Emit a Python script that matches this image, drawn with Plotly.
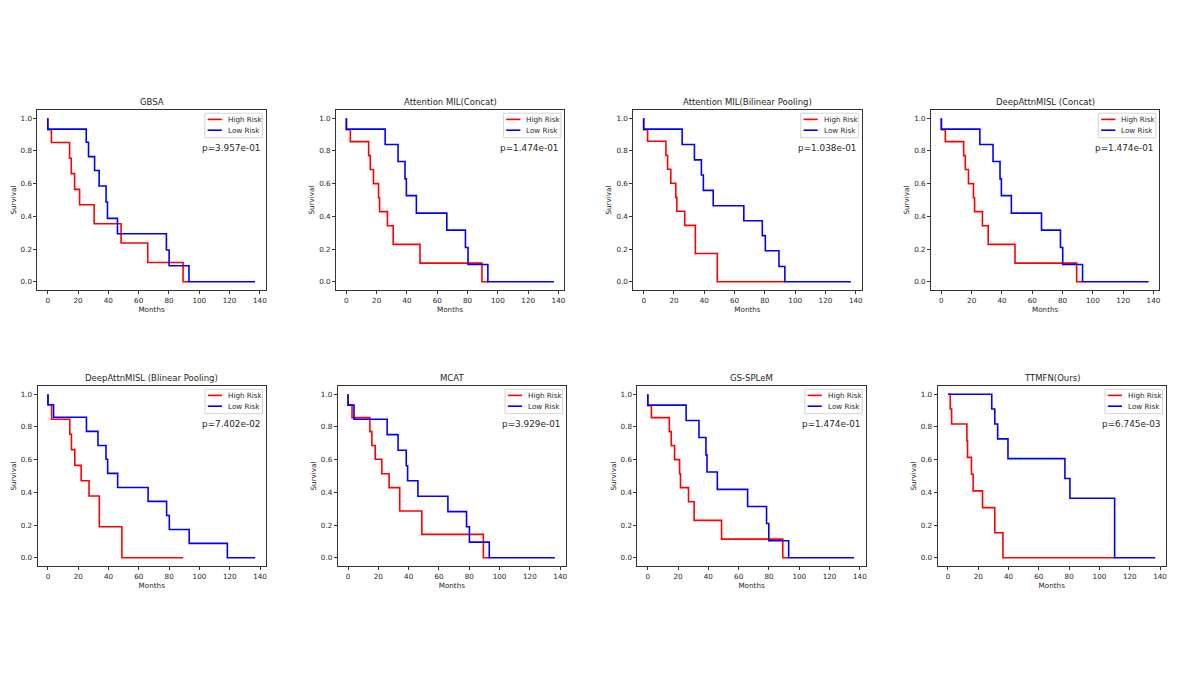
import plotly.graph_objects as go

W, H = 1196, 673

titles = ["GBSA", "Attention MIL(Concat)", "Attention MIL(Bilinear Pooling)", "DeepAttnMISL (Concat)",
          "DeepAttnMISL (Blinear Pooling)", "MCAT", "GS-SPLeM", "TTMFN(Ours)"]
p_values = ["p=3.957e-01", "p=1.474e-01", "p=1.038e-01", "p=1.474e-01",
            "p=7.402e-02", "p=3.929e-01", "p=1.474e-01", "p=6.745e-03"]
series_names = ["High Risk", "Low Risk"]
x_ticks = [0, 20, 40, 60, 80, 100, 120, 140]
y_ticks = [0.0, 0.2, 0.4, 0.6, 0.8, 1.0]

# GBSA
gbsa_high_t = [0, 0, 2.4, 14.4, 15.5, 17.7, 21.0, 30.6, 48.4, 66.0, 89.3, 93.2]
gbsa_high_s = [1.0, 0.929, 0.851, 0.755, 0.661, 0.565, 0.471, 0.355, 0.237, 0.118, 0.0, 0.0]
gbsa_low_t = [0, 0, 25.4, 26.9, 30.9, 33.9, 38.5, 39.4, 46.0, 78.3, 80.1, 93.2, 136.8]
gbsa_low_s = [1.0, 0.933, 0.853, 0.765, 0.68, 0.586, 0.488, 0.388, 0.294, 0.194, 0.098, 0.0, 0.0]

# Attention MIL (Concat)
amil_cat_high_t = [0, 0, 2.6, 14.7, 15.8, 17.9, 21.2, 21.9, 27.1, 30.9, 48.6, 89.5, 93.4]
amil_cat_high_s = [1.0, 0.929, 0.857, 0.771, 0.686, 0.6, 0.514, 0.429, 0.343, 0.229, 0.114, 0.0, 0.0]
amil_cat_low_t = [0, 0, 25.6, 34.1, 38.7, 39.6, 46.2, 66.3, 78.6, 80.3, 93.4, 137.0]
amil_cat_low_s = [1.0, 0.933, 0.839, 0.735, 0.629, 0.527, 0.42, 0.316, 0.21, 0.106, 0.0, 0.0]

# Attention MIL (Bilinear Pooling)
amil_bp_high_t = [0, 0, 2.6, 14.7, 15.8, 17.9, 21.2, 21.9, 27.1, 34.1, 48.6, 93.2]
amil_bp_high_s = [1.0, 0.929, 0.859, 0.773, 0.688, 0.602, 0.516, 0.431, 0.345, 0.173, 0.0, 0.0]
amil_bp_low_t = [0, 0, 25.4, 33.5, 38.1, 39.4, 45.9, 66.1, 78.3, 80.3, 89.3, 93.2, 136.8]
amil_bp_low_s = [1.0, 0.933, 0.839, 0.745, 0.653, 0.559, 0.465, 0.373, 0.282, 0.19, 0.094, 0.0, 0.0]

# DeepAttnMISL (Concat)
dam_cat_high_t = [0, 0, 2.6, 14.7, 15.8, 17.9, 21.2, 21.9, 27.1, 30.9, 48.6, 89.3, 93.2]
dam_cat_high_s = [1.0, 0.929, 0.857, 0.771, 0.686, 0.6, 0.514, 0.429, 0.343, 0.229, 0.114, 0.0, 0.0]
dam_cat_low_t = [0, 0, 25.4, 34.1, 38.7, 39.6, 46.2, 66.1, 78.6, 80.1, 93.2, 136.8]
dam_cat_low_s = [1.0, 0.933, 0.839, 0.735, 0.629, 0.527, 0.42, 0.316, 0.21, 0.106, 0.0, 0.0]

# DeepAttnMISL (Blinear Pooling)
dam_bp_high_t = [0, 0, 2.4, 14.4, 15.5, 17.7, 21.9, 27.1, 33.9, 48.8, 89.3]
dam_bp_high_s = [1.0, 0.935, 0.847, 0.755, 0.661, 0.565, 0.471, 0.378, 0.19, 0.0, 0.0]
dam_bp_low_t = [0, 0, 3.7, 25.4, 33.0, 38.3, 39.4, 46.0, 66.1, 78.3, 80.1, 93.2, 118.4, 136.8]
dam_bp_low_s = [1.0, 0.935, 0.859, 0.773, 0.686, 0.602, 0.516, 0.43, 0.345, 0.259, 0.173, 0.088, 0.0, 0.0]

# MCAT
mcat_high_t = [0, 0, 2.6, 14.4, 15.7, 17.9, 22.3, 27.1, 34.1, 48.7, 89.3, 93.2]
mcat_high_s = [1.0, 0.933, 0.857, 0.771, 0.686, 0.602, 0.514, 0.429, 0.286, 0.143, 0.0, 0.0]
mcat_low_t = [0, 0, 3.9, 25.8, 33.0, 38.4, 39.3, 46.1, 65.9, 78.2, 80.1, 93.2, 136.5]
mcat_low_s = [1.0, 0.933, 0.847, 0.753, 0.657, 0.563, 0.471, 0.376, 0.282, 0.19, 0.096, 0.0, 0.0]

# GS-SPLeM
gs_high_t = [0, 0, 2.4, 14.2, 15.5, 17.7, 21.0, 21.6, 26.9, 30.6, 48.7, 89.1, 93.0]
gs_high_s = [1.0, 0.929, 0.857, 0.771, 0.686, 0.6, 0.514, 0.429, 0.343, 0.229, 0.114, 0.0, 0.0]
gs_low_t = [0, 0, 25.3, 33.8, 38.4, 39.1, 45.9, 65.9, 78.4, 79.9, 93.0, 136.2]
gs_low_s = [1.0, 0.933, 0.839, 0.735, 0.629, 0.524, 0.418, 0.314, 0.21, 0.104, 0.0, 0.0]

# TTMFN (Ours)
ttmfn_high_t = [0, 1.5, 2.4, 12.5, 12.9, 15.5, 16.6, 22.8, 30.9, 36.3, 110.0]
ttmfn_high_s = [1.0, 0.909, 0.818, 0.716, 0.614, 0.511, 0.409, 0.307, 0.153, 0.0, 0.0]
ttmfn_low_t = [0, 28.9, 30.9, 32.8, 39.6, 77.2, 80.5, 110.0, 136.8]
ttmfn_low_s = [1.0, 0.909, 0.818, 0.727, 0.606, 0.485, 0.364, 0.0, 0.0]

panel_data = [
    (gbsa_high_t, gbsa_high_s, gbsa_low_t, gbsa_low_s),
    (amil_cat_high_t, amil_cat_high_s, amil_cat_low_t, amil_cat_low_s),
    (amil_bp_high_t, amil_bp_high_s, amil_bp_low_t, amil_bp_low_s),
    (dam_cat_high_t, dam_cat_high_s, dam_cat_low_t, dam_cat_low_s),
    (dam_bp_high_t, dam_bp_high_s, dam_bp_low_t, dam_bp_low_s),
    (mcat_high_t, mcat_high_s, mcat_low_t, mcat_low_s),
    (gs_high_t, gs_high_s, gs_low_t, gs_low_s),
    (ttmfn_high_t, ttmfn_high_s, ttmfn_low_t, ttmfn_low_s),
]

# ---- layout geometry (pixels) ----
row_px = [(110, 290), (386, 566)]
col_px = [[(37.4, 265.7), (336.0, 564.3), (633.3, 861.6), (931.0, 1159.3)],
          [(37.6, 265.9), (337.7, 566.0), (637.4, 865.7), (937.6, 1165.9)]]
COLORS = ["#ff0000", "#0000ff"]
FONT = "DejaVu Sans"
TXT = "#262626"
AX = "#333333"
LW = 1.6


def px(x):
    return x / W


def py(y):
    return 1 - y / H


fig = go.Figure()
annotations = []
shapes = []
layout_axes = {}

for i, (ht, hs, lt, ls) in enumerate(panel_data):
    r, c = divmod(i, 4)
    left, right = col_px[r][c]
    top, bottom = row_px[r]
    n = "" if i == 0 else str(i + 1)
    xref, yref = "x" + n, "y" + n

    for (t, s), name, col in zip([(ht, hs), (lt, ls)], series_names, COLORS):
        fig.add_trace(go.Scatter(x=t, y=s, mode="lines", line=dict(color=col, width=LW, shape="hv"),
                                 name=name, showlegend=False, xaxis=xref, yaxis=yref,
                                 hoverinfo="skip"))

    layout_axes["xaxis" + n] = dict(
        domain=[px(left), px(right)], anchor=yref, range=[-6.85, 143.85],
        tickvals=x_ticks, ticks="outside", ticklen=3, tickwidth=0.9, tickcolor=AX,
        showline=True, mirror=True, linecolor=AX, linewidth=0.9,
        showgrid=False, zeroline=False,
        tickfont=dict(family=FONT, size=7.2, color=TXT),
        title=dict(text="Months", font=dict(family=FONT, size=7.2, color=TXT), standoff=2),
    )
    layout_axes["yaxis" + n] = dict(
        domain=[py(bottom), py(top)], anchor=xref, range=[-0.05, 1.05],
        tickvals=y_ticks, tickformat=".1f", ticks="outside", ticklen=3, tickwidth=0.9, tickcolor=AX,
        showline=True, mirror=True, linecolor=AX, linewidth=0.9,
        showgrid=False, zeroline=False,
        tickfont=dict(family=FONT, size=7.2, color=TXT),
        title=dict(text="Survival", font=dict(family=FONT, size=7.2, color=TXT), standoff=3),
    )

    # subplot title
    annotations.append(dict(text=titles[i], x=px((left + right) / 2), y=py(top - 7.7),
                            xref="paper", yref="paper", xanchor="center", yanchor="middle",
                            showarrow=False, font=dict(family=FONT, size=8.5, color=TXT)))
    # p-value
    annotations.append(dict(text=p_values[i], x=px(right - 4), y=py(top + 38.3),
                            xref="paper", yref="paper", xanchor="right", yanchor="middle",
                            showarrow=False, font=dict(family=FONT, size=8.9, color=TXT)))
    # legend box
    bw, bh = 57.5, 24.5
    br = right - 3.4
    bl = br - bw
    bt = top + 3.2
    shapes.append(dict(type="rect", xref="paper", yref="paper",
                       x0=px(bl), x1=px(br), y0=py(bt + bh), y1=py(bt),
                       line=dict(color="#cfcfcf", width=0.9), fillcolor="rgba(255,255,255,0.8)",
                       layer="above"))
    for k, (name, col) in enumerate(zip(series_names, COLORS)):
        yy = bt + 6.2 + k * 10.8
        shapes.append(dict(type="line", xref="paper", yref="paper",
                           x0=px(bl + 2.8), x1=px(bl + 17.0), y0=py(yy), y1=py(yy),
                           line=dict(color=col, width=LW), layer="above"))
        annotations.append(dict(text=name, x=px(bl + 21.0), y=py(yy), xref="paper", yref="paper",
                                xanchor="left", yanchor="middle", showarrow=False,
                                font=dict(family=FONT, size=7.2, color=TXT)))

fig.update_layout(
    width=W, height=H, margin=dict(l=0, r=0, t=0, b=0),
    paper_bgcolor="white", plot_bgcolor="white",
    showlegend=False, annotations=annotations, shapes=shapes,
    **layout_axes,
)

fig.write_html("out.html", config={"displayModeBar": False},
               post_script="document.body.style.margin='0';document.body.style.overflow='hidden';")
